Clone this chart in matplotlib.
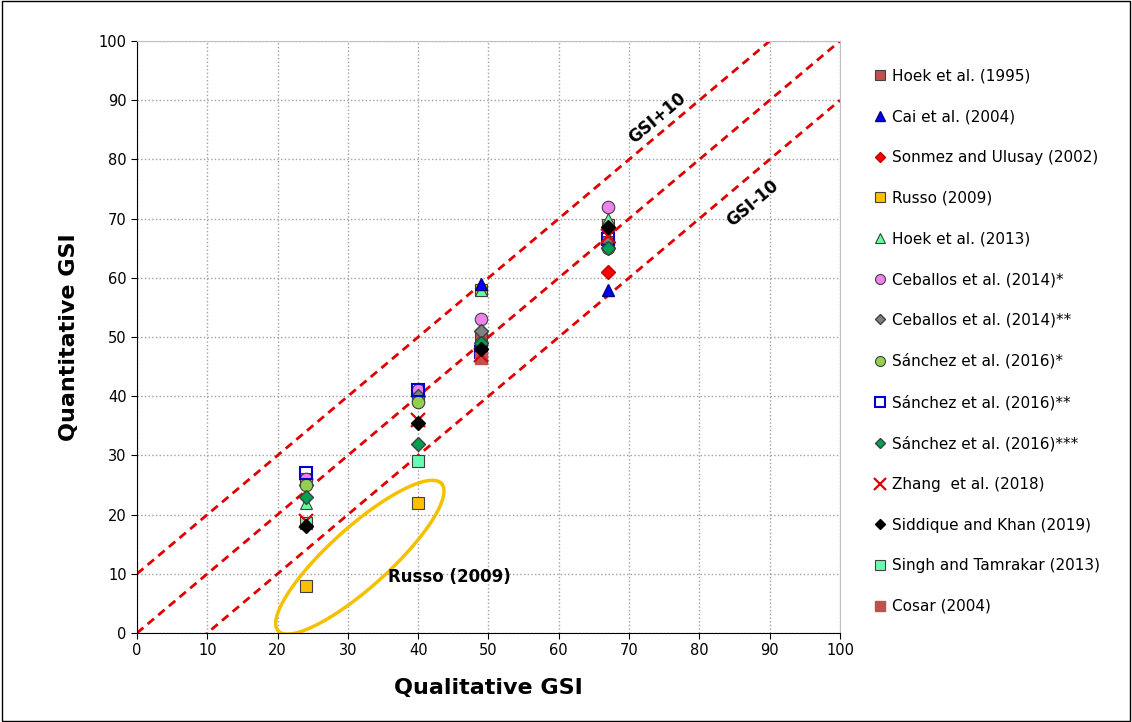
import numpy as np
import matplotlib
matplotlib.use('Agg')
import matplotlib.pyplot as plt

# Series data: (label, x values, y values)
hoek1995_x = [24, 40, 49, 67]
hoek1995_y = [26, 40, 50, 66]
cai_x = [49, 67]
cai_y = [59, 58]
sonmez_x = [67]
sonmez_y = [61]
russo_x = [24, 40, 49, 67]
russo_y = [8, 22, 58, 69]
hoek2013_x = [24, 40, 49, 67]
hoek2013_y = [22, 29, 58, 70]
ceballos1_x = [24, 40, 49, 67]
ceballos1_y = [26, 41, 53, 72]
ceballos2_x = [24, 40, 49, 67]
ceballos2_y = [25, 40, 51, 66]
sanchez1_x = [24, 40, 49, 67]
sanchez1_y = [25, 39, 49, 65]
sanchez2_x = [24, 40, 49, 67]
sanchez2_y = [27, 41, 47.5, 66.5]
sanchez3_x = [24, 40, 49, 67]
sanchez3_y = [23, 32, 49, 65]
zhang_x = [24, 40, 49, 67]
zhang_y = [19, 36, 47, 67]
siddique_x = [24, 40, 49, 67]
siddique_y = [18, 35.5, 48, 68.5]
singh_x = [24, 40]
singh_y = [18.5, 29]
cosar_x = [49]
cosar_y = [46.5]

fig = plt.figure(figsize=(11.32, 7.22), dpi=100)
ax = fig.add_axes([137 / 1132, 1 - 633 / 722, 703 / 1132, 592 / 722])

# reference lines
line_x = np.array([0, 100])
for off in [10, 0, -10]:
    ax.plot(line_x, line_x + off, color='#E00000', ls=(0, (3, 2)), lw=2, zorder=2)

ek = dict(ls='none', markeredgecolor='#404040', markeredgewidth=0.8, ms=9, zorder=3)
ax.plot(hoek1995_x, hoek1995_y, 's', color='#C0504D', label='Hoek et al. (1995)', **ek)
ax.plot(russo_x, russo_y, 's', color='#FFC000', label='Russo (2009)', **ek)
ax.plot(hoek2013_x, hoek2013_y, '^', color='#66FF99', label='Hoek et al. (2013)', **ek)
ax.plot(cai_x, cai_y, '^', color='#0000FF', label='Cai et al. (2004)', ls='none', ms=9,
        markeredgecolor='#000080', zorder=4)
ax.plot(sonmez_x, sonmez_y, 'D', color='#FF0000', label='Sonmez and Ulusay (2002)', ls='none',
        ms=7, markeredgecolor='#C00000', zorder=3)
ax.plot(ceballos1_x, ceballos1_y, 'o', color='#EE82EE', label='Ceballos et al. (2014)*', **ek)
ax.plot(ceballos2_x, ceballos2_y, 'D', color='#808080', label='Ceballos et al. (2014)**',
        ls='none', ms=7, markeredgecolor='#404040', zorder=3)
ax.plot(sanchez1_x, sanchez1_y, 'o', color='#92D050', label='Sánchez et al. (2016)*', **ek)
ax.plot(sanchez2_x, sanchez2_y, 's', color='none', label='Sánchez et al. (2016)**', ls='none',
        ms=9, markeredgecolor='#0000CC', markeredgewidth=1.5, zorder=3)
ax.plot(sanchez3_x, sanchez3_y, 'D', color='#00A050', label='Sánchez et al. (2016)***',
        ls='none', ms=7, markeredgecolor='#404040', zorder=3)
ax.plot(zhang_x, zhang_y, 'x', color='#E00000', label='Zhang  et al. (2018)', ls='none',
        ms=10, markeredgewidth=1.6, zorder=4)
ax.plot(siddique_x, siddique_y, 'D', color='black', label='Siddique and Khan (2019)',
        ls='none', ms=7, zorder=4)
ax.plot(singh_x, singh_y, 's', color='#66FFB2', label='Singh and Tamrakar (2013)', **ek)
ax.plot(cosar_x, cosar_y, 's', color='#C0504D', label='Cosar (2004)', ls='none', ms=9, zorder=3)

# Russo ellipse, drawn in pixel space then mapped to data units
sx, sy = 703 / 100, 592 / 100
t = np.linspace(0, 2 * np.pi, 200)
ang = np.deg2rad(42)
a, b = 110, 30
px = a * np.cos(t) * np.cos(ang) - b * np.sin(t) * np.sin(ang)
py = a * np.cos(t) * np.sin(ang) + b * np.sin(t) * np.cos(ang)
ax.plot(31.7 + px / sx, 12.8 + py / sy, color='#F5C000', lw=2.5, zorder=2)

ax.text(44.5, 9.5, 'Russo (2009)', fontsize=12, fontweight='bold', ha='center', va='center')
ax.text(74, 87, 'GSI+10', fontsize=12, fontweight='bold', rotation=40, ha='center', va='center')
ax.text(87.5, 72.5, 'GSI-10', fontsize=12, fontweight='bold', rotation=40, ha='center', va='center')

ax.set_xlim(0, 100)
ax.set_ylim(0, 100)
ax.set_xticks(range(0, 101, 10))
ax.set_yticks(range(0, 101, 10))
ax.tick_params(labelsize=10.5, direction='out', length=4)
ax.grid(True, color='#A0A0A0', ls=':', lw=1)
ax.set_axisbelow(True)
for s in ['top', 'right']:
    ax.spines[s].set_color('#C0C0C0')
ax.set_xlabel('Qualitative GSI', fontsize=16, fontweight='bold', labelpad=14)
ax.set_ylabel('Quantitative GSI', fontsize=16, fontweight='bold', labelpad=14)

order = ['Hoek et al. (1995)', 'Cai et al. (2004)', 'Sonmez and Ulusay (2002)', 'Russo (2009)',
         'Hoek et al. (2013)', 'Ceballos et al. (2014)*', 'Ceballos et al. (2014)**',
         'Sánchez et al. (2016)*', 'Sánchez et al. (2016)**', 'Sánchez et al. (2016)***',
         'Zhang  et al. (2018)', 'Siddique and Khan (2019)', 'Singh and Tamrakar (2013)',
         'Cosar (2004)']
h, l = ax.get_legend_handles_labels()
hd = dict(zip(l, h))
fig.legend([hd[k] for k in order], order, loc='upper left', bbox_to_anchor=(860 / 1132, 1 - 55 / 722),
           frameon=False, fontsize=11, labelspacing=1.68, handlelength=0.8, handletextpad=0.4,
           markerscale=0.8)

fig.patches.append(plt.Rectangle((0.002, 0.002), 0.996, 0.996, transform=fig.transFigure,
                                 fill=False, edgecolor='black', lw=1))
fig.savefig('out.png', dpi=100)
